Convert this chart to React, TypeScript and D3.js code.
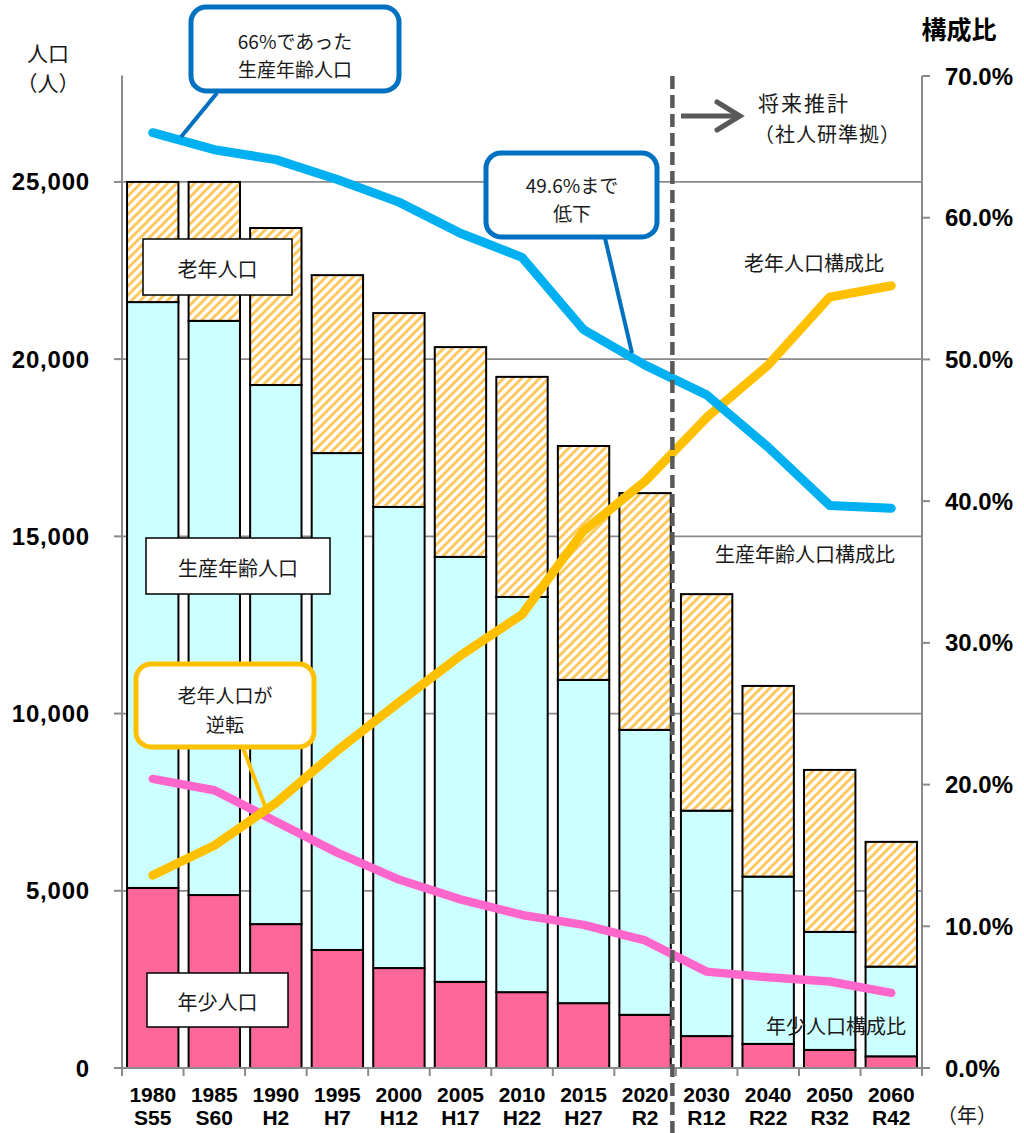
import React from "react";
import * as d3 from "d3";

// 人口（人）
const years = ["1980", "1985", "1990", "1995", "2000", "2005", "2010", "2015", "2020", "2030", "2040", "2050", "2060"];
const eras = ["S55", "S60", "H2", "H7", "H12", "H17", "H22", "H27", "R2", "R12", "R22", "R32", "R42"];
const young = [5080, 4880, 4060, 3330, 2820, 2430, 2140, 1830, 1500, 900, 680, 510, 330];
const working = [16530, 16200, 15210, 14020, 13010, 11990, 11150, 9120, 8040, 6360, 4720, 3330, 2530];
const elderly = [3390, 3920, 4430, 5020, 5470, 5920, 6210, 6600, 6680, 6110, 5380, 4570, 3520];

// 構成比（%）
const workingRatio = [66.0, 64.8, 64.1, 62.7, 61.1, 58.9, 57.2, 52.1, 49.6, 47.5, 43.8, 39.7, 39.5];
const elderlyRatio = [13.6, 15.7, 18.7, 22.4, 25.8, 29.1, 32.0, 37.9, 41.4, 45.9, 49.6, 54.4, 55.2];
const youngRatio = [20.4, 19.6, 17.4, 15.2, 13.3, 11.9, 10.8, 10.1, 9.0, 6.8, 6.4, 6.1, 5.3];

const leftTicks = [0, 5000, 10000, 15000, 20000, 25000];
const rightTicks = [0, 10, 20, 30, 40, 50, 60, 70];

const W = 1024;
const H = 1133;
const plotLeft = 122;
const plotRight = 922;
const plotBottom = 1068;

const NUM_FONT = "'Liberation Sans', Arial, sans-serif";
const JP_FONT = "'Noto Sans CJK JP', 'Noto Sans', sans-serif";
const AXIS_GRAY = "#8a8a8a";

export default function App() {
  const x = d3
    .scaleBand<string>()
    .domain(years)
    .range([plotLeft, plotRight])
    .paddingInner(0.165)
    .paddingOuter(0.082);
  const step = x.step();
  const cx = (i: number) => (x(years[i]) ?? 0) + x.bandwidth() / 2;

  const yL = d3.scaleLinear().domain([0, 28000]).range([plotBottom, 75.6]);
  const yR = d3.scaleLinear().domain([0, 70]).range([plotBottom, 76]);

  const table = years.map((y, i) => ({ year: y, young: young[i], working: working[i], elderly: elderly[i] }));
  const stacked = d3.stack<any>().keys(["young", "working", "elderly"])(table);
  const fills: Record<string, string> = {
    young: "#FF6699",
    working: "#CCFFFF",
    elderly: "url(#hatch)",
  };

  const line = d3
    .line<number>()
    .x((_, i) => cx(i))
    .y((d) => yR(d));

  // boundary between 2020 and 2030
  const splitX = plotLeft + step * 9 - 3.5;

  const boundaries = d3.range(years.length + 1).map((i) => plotLeft + i * step);

  const jp = (size: number) => ({ fontFamily: JP_FONT, fontSize: size, fill: "#1a1a1a" });

  return (
    <svg
      width={W}
      height={H}
      viewBox={`0 0 ${W} ${H}`}
      style={{ position: "absolute", left: 0, top: 0, background: "#fff" }}
    >
      <defs>
        <pattern id="hatch" patternUnits="userSpaceOnUse" width={9} height={9}>
          <rect width={9} height={9} fill="#fff" />
          <path d="M-1,1 L1,-1 M0,9 L9,0 M8,10 L10,8" stroke="#FFC85E" strokeWidth={3} />
        </pattern>
      </defs>

      {/* gridlines */}
      {leftTicks.filter((t) => t > 0).map((t) => (
        <line key={t} x1={plotLeft} x2={plotRight} y1={yL(t)} y2={yL(t)} stroke={AXIS_GRAY} strokeWidth={1.8} />
      ))}

      {/* bars */}
      {stacked.map((s) => (
        <g key={s.key}>
          {s.map((d, i) => (
            <rect
              key={i}
              x={x(years[i])}
              y={yL(d[1])}
              width={x.bandwidth()}
              height={yL(d[0]) - yL(d[1])}
              fill={fills[s.key]}
              stroke="#000"
              strokeWidth={2}
            />
          ))}
        </g>
      ))}

      {/* axes */}
      <line x1={plotLeft} x2={plotLeft} y1={yL(28000)} y2={plotBottom} stroke={AXIS_GRAY} strokeWidth={2} />
      {leftTicks.map((t) => (
        <g key={t}>
          <line x1={plotLeft - 8} x2={plotLeft} y1={yL(t)} y2={yL(t)} stroke={AXIS_GRAY} strokeWidth={2} />
          <text
            x={90}
            y={yL(t)}
            textAnchor="end"
            dominantBaseline="central"
            fontFamily={NUM_FONT}
            fontWeight="bold"
            fontSize={24}
            letterSpacing={0.8}
            fill="#000"
          >
            {d3.format(",")(t)}
          </text>
        </g>
      ))}
      <line x1={plotRight} x2={plotRight} y1={yR(70)} y2={plotBottom} stroke={AXIS_GRAY} strokeWidth={2} />
      {rightTicks.map((t) => (
        <g key={t}>
          <line x1={plotRight} x2={plotRight + 8} y1={yR(t)} y2={yR(t)} stroke={AXIS_GRAY} strokeWidth={2} />
          <text
            x={945}
            y={yR(t)}
            dominantBaseline="central"
            fontFamily={NUM_FONT}
            fontWeight="bold"
            fontSize={24}
            fill="#000"
          >
            {t.toFixed(1)}%
          </text>
        </g>
      ))}
      <line x1={plotLeft - 8} x2={plotRight + 8} y1={plotBottom} y2={plotBottom} stroke={AXIS_GRAY} strokeWidth={2} />
      {boundaries.map((bx, i) => (
        <line key={i} x1={bx} x2={bx} y1={plotBottom} y2={plotBottom + 8} stroke={AXIS_GRAY} strokeWidth={2} />
      ))}
      {years.map((y, i) => (
        <text
          key={y}
          x={cx(i)}
          textAnchor="middle"
          fontFamily={NUM_FONT}
          fontWeight="bold"
          fontSize={21}
          fill="#000"
        >
          <tspan x={cx(i)} y={1102}>{y}</tspan>
          <tspan x={cx(i)} y={1125}>{eras[i]}</tspan>
        </text>
      ))}

      {/* axis titles */}
      <text x={48} y={52} textAnchor="middle" dominantBaseline="central" {...jp(21)}>人口</text>
      <text x={48} y={82} textAnchor="middle" dominantBaseline="central" {...jp(21)}>（人）</text>
      <text x={959} y={28} textAnchor="middle" dominantBaseline="central" {...jp(25)} fontWeight="bold" fill="#000">構成比</text>
      <text x={967} y={1114} textAnchor="middle" dominantBaseline="central" {...jp(20)}>（年）</text>

      {/* series labels */}
      {[
        { t: "老年人口", x0: 143, y0: 239, w: 149, h: 56 },
        { t: "生産年齢人口", x0: 146, y0: 538, w: 184, h: 56 },
        { t: "年少人口", x0: 147, y0: 973, w: 141, h: 54 },
      ].map((b) => (
        <g key={b.t}>
          <rect x={b.x0} y={b.y0} width={b.w} height={b.h} fill="#fff" stroke="#000" strokeWidth={1.5} />
          <text x={b.x0 + b.w / 2} y={b.y0 + b.h / 2 + 1} textAnchor="middle" dominantBaseline="central" {...jp(20)}>
            {b.t}
          </text>
        </g>
      ))}

      {/* ratio lines */}
      <path d={line(youngRatio) ?? ""} fill="none" stroke="#FF66CC" strokeWidth={8.5} strokeLinecap="round" strokeLinejoin="round" />
      <path d={line(elderlyRatio) ?? ""} fill="none" stroke="#FFC000" strokeWidth={9} strokeLinecap="round" strokeLinejoin="round" />
      <path d={line(workingRatio) ?? ""} fill="none" stroke="#00B0F0" strokeWidth={9} strokeLinecap="round" strokeLinejoin="round" />

      <text x={814} y={262} textAnchor="middle" dominantBaseline="central" {...jp(20)}>老年人口構成比</text>
      <text x={805} y={553} textAnchor="middle" dominantBaseline="central" {...jp(20)}>生産年齢人口構成比</text>
      <text x={836} y={1025} textAnchor="middle" dominantBaseline="central" {...jp(20)}>年少人口構成比</text>

      {/* projection divider */}
      <line x1={splitX} x2={splitX} y1={76} y2={H} stroke="#595959" strokeWidth={4.5} strokeDasharray="13 6" />
      <line x1={681} x2={738} y1={116} y2={116} stroke="#595959" strokeWidth={5} />
      <path d="M717,102 L740,116 L717,130" fill="none" stroke="#595959" strokeWidth={5} strokeLinecap="round" strokeLinejoin="miter" />
      <text x={758} y={102} dominantBaseline="central" {...jp(21)} letterSpacing={2}>将来推計</text>
      <text x={754} y={133} dominantBaseline="central" {...jp(20)} letterSpacing={1}>（社人研準拠）</text>

      {/* callouts */}
      <line x1={217} y1={93} x2={181} y2={137} stroke="#0070C0" strokeWidth={4} />
      <rect x={191} y={7} width={208} height={84} rx={15} fill="#fff" stroke="#0070C0" strokeWidth={5} />
      <text x={295} y={40} textAnchor="middle" dominantBaseline="central" {...jp(19)}>66%であった</text>
      <text x={295} y={68} textAnchor="middle" dominantBaseline="central" {...jp(19)}>生産年齢人口</text>

      <line x1={605} y1={238} x2={632} y2={353} stroke="#0070C0" strokeWidth={4} />
      <rect x={486} y={153} width={171} height={84} rx={15} fill="#fff" stroke="#0070C0" strokeWidth={5} />
      <text x={572} y={184} textAnchor="middle" dominantBaseline="central" {...jp(19)}>49.6%まで</text>
      <text x={572} y={212} textAnchor="middle" dominantBaseline="central" {...jp(19)}>低下</text>

      <line x1={243} y1={748} x2={265} y2={806} stroke="#FFC000" strokeWidth={4} />
      <rect x={136} y={664} width={178} height={83} rx={15} fill="#fff" stroke="#FFC000" strokeWidth={5} />
      <text x={225} y={694} textAnchor="middle" dominantBaseline="central" {...jp(19)}>老年人口が</text>
      <text x={225} y={723} textAnchor="middle" dominantBaseline="central" {...jp(19)}>逆転</text>
    </svg>
  );
}
